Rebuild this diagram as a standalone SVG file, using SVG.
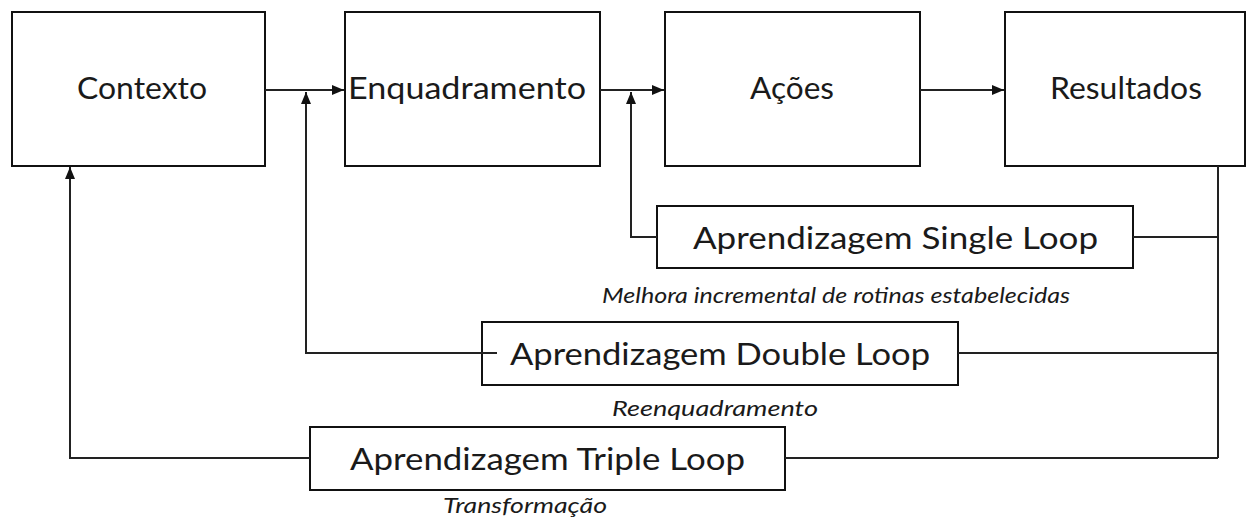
<svg xmlns="http://www.w3.org/2000/svg" width="1248" height="522" viewBox="0 0 1248 522">
<defs>
<marker id="ah" viewBox="0 0 12 10" refX="12" refY="5" markerWidth="12" markerHeight="10" markerUnits="userSpaceOnUse" orient="auto">
<path d="M0,0 L12,5 L0,10 Z" fill="#111"/>
</marker>
</defs>
<style>
.box{fill:#fff;stroke:#111;stroke-width:2}
.lbl{font-family:"Lato","Liberation Sans",sans-serif;font-size:30px;fill:#1a1a1a}
.cap{font-family:"Lato","Liberation Sans",sans-serif;font-size:22px;font-style:italic;fill:#1a1a1a}
.ln{fill:none;stroke:#222;stroke-width:2}
</style>
<rect width="1248" height="522" fill="#fff"/>
<g id="contexto">
<rect class="box" x="12" y="12" width="253" height="154"/>
<text class="lbl" x="77" y="99" textLength="130" lengthAdjust="spacingAndGlyphs">Contexto</text>
</g>
<g id="enquadramento">
<rect class="box" x="345" y="12" width="255" height="154"/>
<text class="lbl" x="348" y="99" textLength="238" lengthAdjust="spacingAndGlyphs">Enquadramento</text>
</g>
<g id="acoes">
<rect class="box" x="665" y="12" width="255" height="154"/>
<text class="lbl" x="750" y="99" textLength="84" lengthAdjust="spacingAndGlyphs">Ações</text>
</g>
<g id="resultados">
<rect class="box" x="1005" y="12" width="240" height="154"/>
<text class="lbl" x="1050" y="99" textLength="152" lengthAdjust="spacingAndGlyphs">Resultados</text>
</g>
<g id="single">
<rect class="box" x="657" y="206" width="476" height="62"/>
<text class="lbl" x="693" y="249" textLength="405" lengthAdjust="spacingAndGlyphs">Aprendizagem Single Loop</text>
<text class="cap" x="602" y="303" textLength="468" lengthAdjust="spacingAndGlyphs">Melhora incremental de rotinas estabelecidas</text>
</g>
<g id="double">
<rect class="box" x="482" y="322" width="476" height="63"/>
<text class="lbl" x="510" y="365" textLength="420" lengthAdjust="spacingAndGlyphs">Aprendizagem Double Loop</text>
<text class="cap" x="612" y="416" textLength="206" lengthAdjust="spacingAndGlyphs">Reenquadramento</text>
</g>
<g id="triple">
<rect class="box" x="310" y="427" width="475" height="63"/>
<text class="lbl" x="350" y="470" textLength="395" lengthAdjust="spacingAndGlyphs">Aprendizagem Triple Loop</text>
<text class="cap" x="443" y="513" textLength="164" lengthAdjust="spacingAndGlyphs">Transformação</text>
</g>
<g id="connectors">
<path class="ln" d="M265,90 H344" marker-end="url(#ah)"/>
<path class="ln" d="M600,90 H664" marker-end="url(#ah)"/>
<path class="ln" d="M920,90 H1004" marker-end="url(#ah)"/>
<path class="ln" d="M1218,166 V458"/>
<path class="ln" d="M1133,237 H1218"/>
<path class="ln" d="M958,353 H1218"/>
<path class="ln" d="M785,458 H1218"/>
<path class="ln" d="M657,237 H631 V92" marker-end="url(#ah)"/>
<path class="ln" d="M497,353 H306 V92" marker-end="url(#ah)"/>
<path class="ln" d="M310,458 H70 V167" marker-end="url(#ah)"/>
</g>
</svg>
